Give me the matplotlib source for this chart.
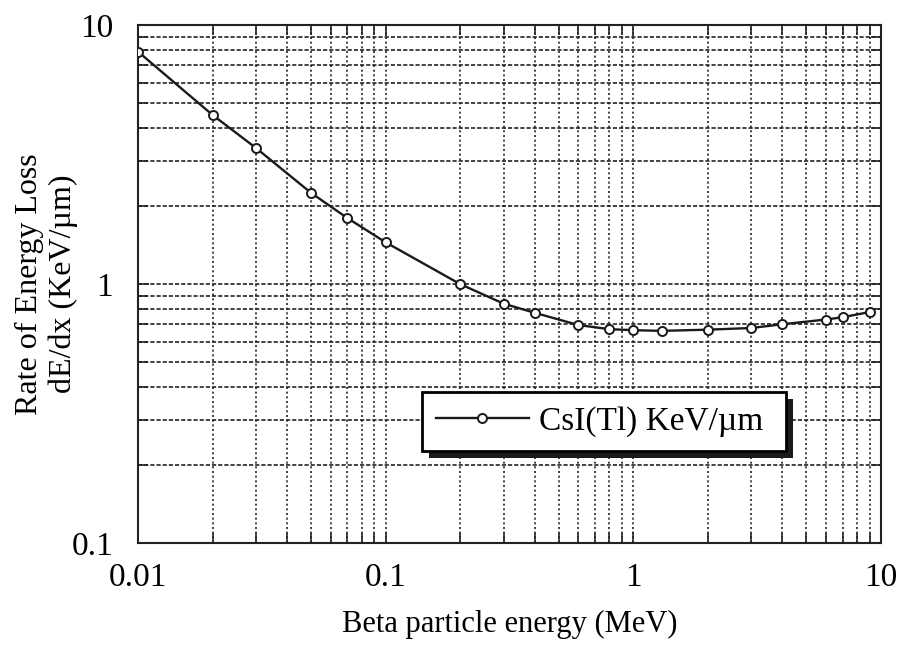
import numpy as np
import matplotlib
matplotlib.use('Agg')
import matplotlib.pyplot as plt
from matplotlib.patches import Rectangle
from matplotlib.ticker import LogLocator, FixedLocator, FixedFormatter, NullFormatter

plt.rcParams['font.family'] = ['Liberation Serif', 'DejaVu Serif']

energy = [0.01, 0.02, 0.03, 0.05, 0.07, 0.1, 0.2, 0.3, 0.4, 0.6, 0.8, 1.0, 1.3,
          2.0, 3.0, 4.0, 6.0, 7.0, 9.0]
dedx = [7.9, 4.5, 3.35, 2.25, 1.8, 1.45, 1.0, 0.84, 0.775, 0.695, 0.67, 0.664, 0.66,
        0.667, 0.677, 0.70, 0.73, 0.745, 0.78]
xticks = [0.01, 0.1, 1, 10]
xtick_labels = ['0.01', '0.1', '1', '10']
yticks = [0.1, 1, 10]
ytick_labels = ['0.1', '1', '10']

fig = plt.figure(figsize=(8.98, 6.45), dpi=100)
ax = fig.add_axes([0.1537, 0.158, 0.8273, 0.803])

ax.plot(energy, dedx, color='#1a1a1a', lw=1.7, marker='o', ms=6.5,
        mfc='white', mec='#1a1a1a', mew=1.4, label='CsI(Tl) KeV/µm ', zorder=3)

ax.set_xscale('log')
ax.set_yscale('log')
ax.set_xlim(0.01, 10)
ax.set_ylim(0.1, 10)

ax.xaxis.set_major_locator(FixedLocator(xticks))
ax.xaxis.set_major_formatter(FixedFormatter(xtick_labels))
ax.yaxis.set_major_locator(FixedLocator(yticks))
ax.yaxis.set_major_formatter(FixedFormatter(ytick_labels))
ax.xaxis.set_minor_locator(LogLocator(base=10, subs=np.arange(2, 10)))
ax.yaxis.set_minor_locator(LogLocator(base=10, subs=np.arange(2, 10)))
ax.xaxis.set_minor_formatter(NullFormatter())
ax.yaxis.set_minor_formatter(NullFormatter())

ax.tick_params(which='both', direction='in', top=True, right=True, color='#222222', width=1.2)
ax.tick_params(which='major', length=8)
ax.tick_params(which='minor', length=7)
ax.tick_params(axis='x', which='major', labelsize=24, pad=14)
ax.tick_params(axis='y', which='major', labelsize=24, pad=18)

ax.grid(True, which='both', axis='x', color='#222222', lw=1.2, linestyle=(0, (1.2, 1.6)))
ax.grid(True, which='both', axis='y', color='#222222', lw=1.2, linestyle=(0, (2.5, 1.2)))
for s in ax.spines.values():
    s.set_linewidth(1.5)
    s.set_color('#222222')

ax.set_xlabel('Beta particle energy (MeV)', fontsize=22, labelpad=12)
ax.set_ylabel('Rate of Energy Loss\ndE/dx (KeV/µm)', fontsize=23, linespacing=1.2)
ax.yaxis.set_label_coords(-0.081, 0.5)

leg = ax.legend(loc='upper left', bbox_to_anchor=(0.382, 0.2915), fontsize=24,
                frameon=True, fancybox=False, framealpha=1, edgecolor='black',
                handlelength=2.8, borderpad=0.42, handletextpad=0.3, borderaxespad=0)
leg.get_frame().set_linewidth(2.0)
leg.set_zorder(6)

fig.canvas.draw()
bb = leg.get_window_extent()
shadow = Rectangle((bb.x0 + 7, bb.y0 - 7), bb.width, bb.height, transform=None,
                   facecolor='#1a1a1a', edgecolor='none', zorder=5)
ax.add_artist(shadow)

fig.savefig('out.png', dpi=100)
